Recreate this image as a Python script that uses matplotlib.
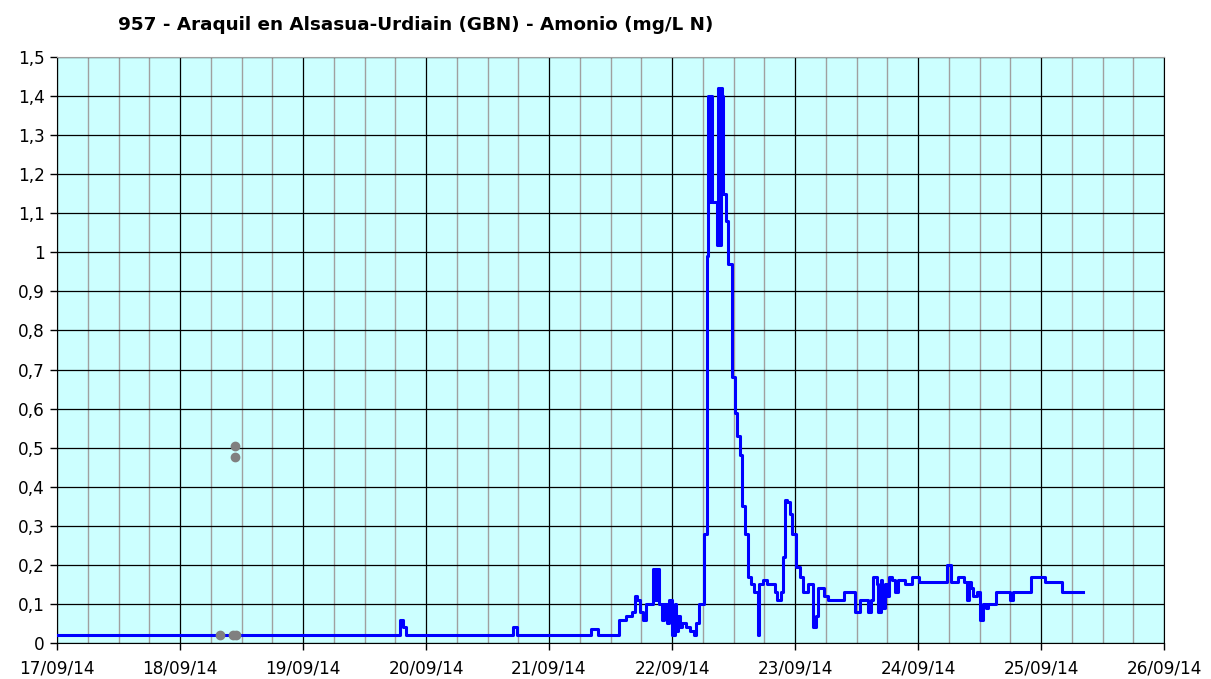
import matplotlib
matplotlib.use('Agg')
import matplotlib.pyplot as plt
import matplotlib.dates as mdates
from matplotlib.ticker import MultipleLocator, FuncFormatter
import pandas as pd

# Ammonium series (mg/L N)
times = [
    "2014-09-17 00:00", "2014-09-19 19:00", "2014-09-19 19:30", "2014-09-19 20:00",
    "2014-09-20 17:00", "2014-09-20 17:45", "2014-09-21 08:15", "2014-09-21 09:30",
    "2014-09-21 13:45", "2014-09-21 15:00", "2014-09-21 16:15", "2014-09-21 16:45",
    "2014-09-21 17:15", "2014-09-21 17:45", "2014-09-21 18:15", "2014-09-21 19:00",
    "2014-09-21 20:15", "2014-09-21 20:30", "2014-09-21 20:45", "2014-09-21 21:00",
    "2014-09-21 21:15", "2014-09-21 21:30", "2014-09-21 22:00", "2014-09-21 22:30",
    "2014-09-21 23:00", "2014-09-21 23:30", "2014-09-22 00:00", "2014-09-22 00:30",
    "2014-09-22 00:45", "2014-09-22 01:15", "2014-09-22 01:30", "2014-09-22 02:00",
    "2014-09-22 02:45", "2014-09-22 03:30", "2014-09-22 04:15", "2014-09-22 04:45",
    "2014-09-22 05:15", "2014-09-22 06:00", "2014-09-22 06:15", "2014-09-22 06:45",
    "2014-09-22 07:00", "2014-09-22 07:15", "2014-09-22 07:30", "2014-09-22 07:45",
    "2014-09-22 08:45", "2014-09-22 09:00", "2014-09-22 09:15", "2014-09-22 09:30",
    "2014-09-22 09:45", "2014-09-22 10:00", "2014-09-22 10:30", "2014-09-22 11:00",
    "2014-09-22 11:45", "2014-09-22 12:15", "2014-09-22 12:45", "2014-09-22 13:15",
    "2014-09-22 13:45", "2014-09-22 14:15", "2014-09-22 14:45", "2014-09-22 15:30",
    "2014-09-22 16:00", "2014-09-22 16:45", "2014-09-22 17:00", "2014-09-22 17:45",
    "2014-09-22 18:30", "2014-09-22 20:00", "2014-09-22 20:30", "2014-09-22 21:15",
    "2014-09-22 21:45", "2014-09-22 22:00", "2014-09-22 22:30", "2014-09-22 23:00",
    "2014-09-22 23:30", "2014-09-23 00:15", "2014-09-23 01:00", "2014-09-23 01:30",
    "2014-09-23 02:30", "2014-09-23 03:30", "2014-09-23 04:00", "2014-09-23 04:30",
    "2014-09-23 05:45", "2014-09-23 06:30", "2014-09-23 09:30", "2014-09-23 11:45",
    "2014-09-23 12:45", "2014-09-23 14:15", "2014-09-23 14:45", "2014-09-23 15:15",
    "2014-09-23 16:00", "2014-09-23 16:15", "2014-09-23 16:45", "2014-09-23 17:00",
    "2014-09-23 17:30", "2014-09-23 18:00", "2014-09-23 18:15", "2014-09-23 19:00",
    "2014-09-23 19:30", "2014-09-23 20:00", "2014-09-23 21:30", "2014-09-23 22:45",
    "2014-09-24 00:15", "2014-09-24 05:45", "2014-09-24 06:30", "2014-09-24 07:45",
    "2014-09-24 09:00", "2014-09-24 09:30", "2014-09-24 10:00", "2014-09-24 10:15",
    "2014-09-24 10:45", "2014-09-24 11:30", "2014-09-24 12:00", "2014-09-24 12:45",
    "2014-09-24 13:15", "2014-09-24 13:45", "2014-09-24 15:15", "2014-09-24 18:00",
    "2014-09-24 18:30", "2014-09-24 22:00", "2014-09-25 00:45", "2014-09-25 04:00",
    "2014-09-25 08:15",
]
values = [
    0.02, 0.06, 0.04, 0.02,
    0.04, 0.02, 0.035, 0.02,
    0.06, 0.07, 0.08, 0.12,
    0.11, 0.08, 0.06, 0.10,
    0.19, 0.11, 0.19, 0.11,
    0.19, 0.10, 0.06, 0.10,
    0.05, 0.11, 0.02, 0.10,
    0.03, 0.07, 0.04, 0.05,
    0.04, 0.03, 0.02, 0.05,
    0.10, 0.10, 0.28, 0.99,
    1.40, 1.13, 1.40, 1.13,
    1.02, 1.42, 1.02, 1.42,
    1.40, 1.15, 1.08, 0.97,
    0.68, 0.59, 0.53, 0.48,
    0.35, 0.28, 0.17, 0.15,
    0.13, 0.02, 0.15, 0.16,
    0.15, 0.13, 0.11, 0.13,
    0.22, 0.365, 0.36, 0.33,
    0.28, 0.195, 0.17, 0.13,
    0.15, 0.04, 0.07, 0.14,
    0.12, 0.11, 0.13, 0.08,
    0.11, 0.08, 0.11, 0.17,
    0.15, 0.08, 0.16, 0.09,
    0.15, 0.12, 0.17, 0.16,
    0.13, 0.16, 0.15, 0.17,
    0.155, 0.20, 0.155, 0.17,
    0.155, 0.11, 0.155, 0.14,
    0.12, 0.13, 0.06, 0.10,
    0.09, 0.10, 0.13, 0.11,
    0.13, 0.17, 0.155, 0.13,
    0.13,
]

# isolated grey points (invalidated samples)
flag_times = ["2014-09-18 07:45", "2014-09-18 10:15", "2014-09-18 11:00",
              "2014-09-18 10:45", "2014-09-18 10:45"]
flag_values = [0.02, 0.02, 0.02, 0.505, 0.475]

title = "957 - Araquil en Alsasua-Urdiain (GBN) - Amonio (mg/L N)"

t = pd.to_datetime(times)
ft = pd.to_datetime(flag_times)

fig = plt.figure(figsize=(12.11, 6.79), dpi=100)
ax = fig.add_axes([57 / 1211, 36 / 679, 1107 / 1211, 586 / 679])
ax.set_facecolor('#CCFFFF')

ax.plot(t, values, drawstyle='steps-post', color='#0000FF', lw=2.2, zorder=3)
ax.plot(ft, flag_values, 'o', color='#808080', ms=6, zorder=4)

ax.set_xlim(pd.Timestamp("2014-09-17"), pd.Timestamp("2014-09-26"))
ax.set_ylim(0, 1.5)

ax.xaxis.set_major_locator(mdates.DayLocator())
ax.xaxis.set_major_formatter(mdates.DateFormatter('%d/%m/%y'))
ax.xaxis.set_minor_locator(mdates.HourLocator(byhour=[6, 12, 18]))
ax.yaxis.set_major_locator(MultipleLocator(0.1))
ax.yaxis.set_major_formatter(FuncFormatter(lambda v, p: ('%g' % round(v, 2)).replace('.', ',')))

ax.grid(which='minor', axis='x', color='#A0A0A0', lw=1.0)
ax.grid(which='major', axis='x', color='black', lw=0.9)
ax.grid(which='major', axis='y', color='black', lw=0.9)
ax.set_axisbelow(True)

ax.tick_params(which='major', length=5, width=1, labelsize=12.2, pad=4)
ax.tick_params(which='minor', length=0)
ax.tick_params(axis='x', pad=7)

for s in ['left', 'bottom', 'right']:
    ax.spines[s].set_color('black')
ax.spines['top'].set_color('#A0A0A0')

fig.text(118 / 1211, 1 - 25 / 679, title, ha='left', va='center',
         fontsize=13.2, fontweight='bold', color='black')

plt.savefig('out.png', dpi=100)
